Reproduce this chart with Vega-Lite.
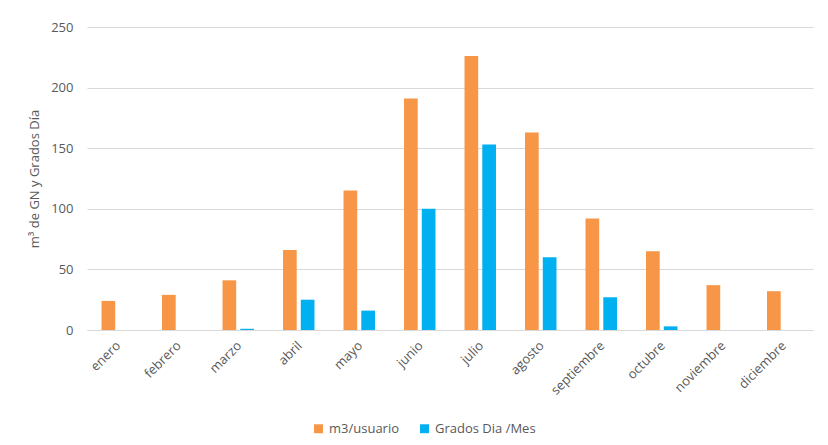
{
  "$schema": "https://vega.github.io/schema/vega-lite/v6.json",
  "width": 726,
  "height": 303,
  "autosize": {"type": "none"},
  "padding": {"left": 87, "top": 27, "right": 15, "bottom": 115},
  "background": "white",
  "data": {
    "values": [
      {"mes": "enero", "serie": "m3/usuario", "valor": 24},
      {"mes": "febrero", "serie": "m3/usuario", "valor": 29},
      {"mes": "marzo", "serie": "m3/usuario", "valor": 41},
      {"mes": "abril", "serie": "m3/usuario", "valor": 66},
      {"mes": "mayo", "serie": "m3/usuario", "valor": 115},
      {"mes": "junio", "serie": "m3/usuario", "valor": 191},
      {"mes": "julio", "serie": "m3/usuario", "valor": 226},
      {"mes": "agosto", "serie": "m3/usuario", "valor": 163},
      {"mes": "septiembre", "serie": "m3/usuario", "valor": 92},
      {"mes": "octubre", "serie": "m3/usuario", "valor": 65},
      {"mes": "noviembre", "serie": "m3/usuario", "valor": 37},
      {"mes": "diciembre", "serie": "m3/usuario", "valor": 32},
      {"mes": "enero", "serie": "Grados Dia /Mes", "valor": 0},
      {"mes": "febrero", "serie": "Grados Dia /Mes", "valor": 0},
      {"mes": "marzo", "serie": "Grados Dia /Mes", "valor": 1},
      {"mes": "abril", "serie": "Grados Dia /Mes", "valor": 25},
      {"mes": "mayo", "serie": "Grados Dia /Mes", "valor": 16},
      {"mes": "junio", "serie": "Grados Dia /Mes", "valor": 100},
      {"mes": "julio", "serie": "Grados Dia /Mes", "valor": 153},
      {"mes": "agosto", "serie": "Grados Dia /Mes", "valor": 60},
      {"mes": "septiembre", "serie": "Grados Dia /Mes", "valor": 27},
      {"mes": "octubre", "serie": "Grados Dia /Mes", "valor": 3},
      {"mes": "noviembre", "serie": "Grados Dia /Mes", "valor": 0},
      {"mes": "diciembre", "serie": "Grados Dia /Mes", "valor": 0}
    ]
  },
  "mark": {"type": "bar"},
  "encoding": {
    "x": {
      "field": "mes",
      "type": "nominal",
      "sort": null,
      "scale": {"paddingInner": 0.48, "paddingOuter": 0.24},
      "axis": {
        "title": null,
        "labelAngle": -45,
        "labelAlign": "right",
        "labelBaseline": "top",
        "labelPadding": 9,
        "labelOffset": -3,
        "ticks": false,
        "domainColor": "#D9D9D9",
        "domainWidth": 1,
        "labelColor": "#595959",
        "labelFontSize": 13,
        "labelFont": "Open Sans"
      }
    },
    "xOffset": {
      "field": "serie",
      "type": "nominal",
      "sort": ["m3/usuario", "Grados Dia /Mes"],
      "scale": {"paddingInner": 0.23, "paddingOuter": 0}
    },
    "y": {
      "field": "valor",
      "type": "quantitative",
      "scale": {"domain": [0, 250], "nice": false},
      "axis": {
        "title": "m³ de GN y Grados Día",
        "titleColor": "#595959",
        "titleFont": "Open Sans",
        "titleFontSize": 13,
        "titleFontWeight": "normal",
        "titlePadding": 9,
        "values": [0, 50, 100, 150, 200, 250],
        "domain": false,
        "ticks": false,
        "gridColor": "#D9D9D9",
        "gridWidth": 1,
        "labelColor": "#595959",
        "labelFontSize": 13,
        "labelFont": "Open Sans",
        "labelPadding": 14
      }
    },
    "color": {
      "field": "serie",
      "type": "nominal",
      "sort": ["m3/usuario", "Grados Dia /Mes"],
      "scale": {"domain": ["m3/usuario", "Grados Dia /Mes"], "range": ["#F79646", "#00B0F0"]},
      "legend": {
        "title": null,
        "orient": "none",
        "direction": "horizontal",
        "legendX": 225,
        "legendY": 395,
        "symbolType": "square",
        "symbolSize": 80,
        "symbolStrokeWidth": 0,
        "labelColor": "#595959",
        "labelFontSize": 13,
        "labelFont": "Open Sans",
        "labelOffset": 4,
        "columnPadding": 18
      }
    }
  },
  "config": {
    "view": {"stroke": null}
  }
}
